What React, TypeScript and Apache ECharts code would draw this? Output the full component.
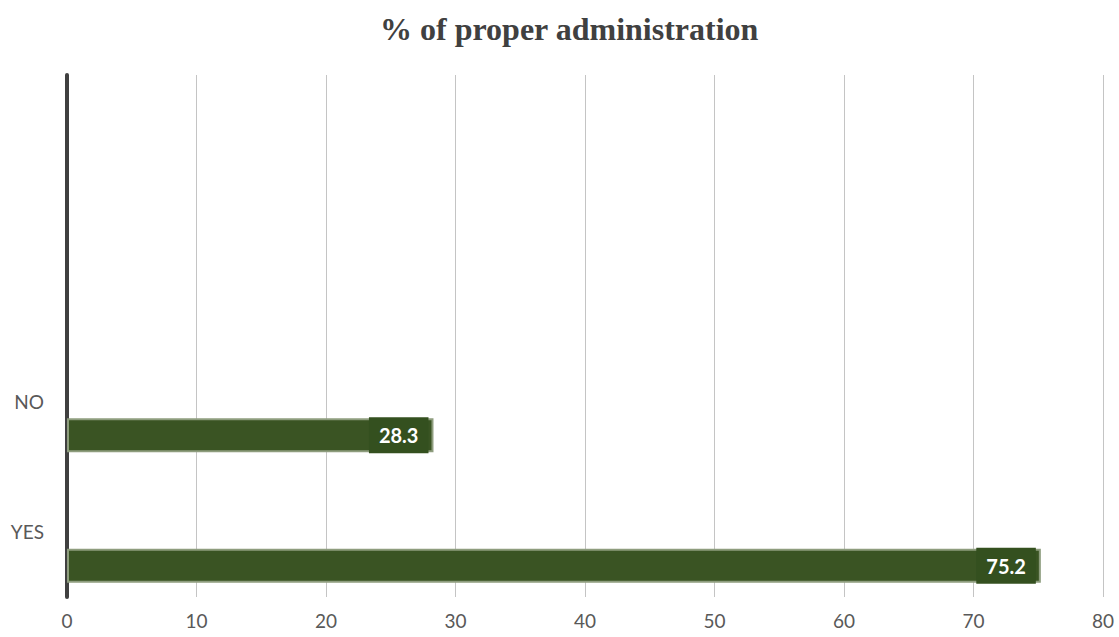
import React, { useEffect, useRef } from "react";
import * as echarts from "echarts";

const title = "% of proper administration";
const categories = ["YES", "NO", "", ""];
const values = [75.2, 28.3, null, null];
const xTicks = { min: 0, max: 80, interval: 10 };

export default function App() {
  const ref = useRef<HTMLDivElement>(null);
  useEffect(() => {
    document.body.style.margin = "0";
    const chart = echarts.init(ref.current!, null, { renderer: "svg" });
    chart.setOption({
      animation: false,
      backgroundColor: "#ffffff",
      title: {
        text: title,
        left: 375,
        top: 8,
        textStyle: {
          fontFamily: "Liberation Serif",
          fontWeight: "bold",
          fontSize: 32,
          color: "#404040",
        },
      },
      grid: { left: 67, right: 16, top: 75, bottom: 40 },
      xAxis: {
        type: "value",
        min: xTicks.min,
        max: xTicks.max,
        interval: xTicks.interval,
        axisLine: { show: false },
        axisTick: { show: false },
        splitLine: { show: true, lineStyle: { color: "#c4c4c4", width: 1 } },
        axisLabel: {
          color: "#595959",
          fontSize: 19,
          fontFamily: "Lato, sans-serif",
          margin: 14,
        },
      },
      yAxis: {
        type: "category",
        data: categories,
        axisLine: { show: true, lineStyle: { color: "#404040", width: 4 } },
        axisTick: { show: false },
        splitLine: { show: false },
        axisLabel: {
          color: "#595959",
          fontSize: 19,
          fontFamily: "Lato, sans-serif",
          margin: 23,
        },
      },
      series: [
        {
          type: "bar",
          data: [null, null, null, null],
          barWidth: 34,
          barGap: "100%",
          itemStyle: { color: "#3a5423" },
        },
        {
          type: "bar",
          data: values,
          barWidth: 34,
          barGap: "100%",
          itemStyle: { color: "#3a5423", borderColor: "#8e9d7e", borderWidth: 2 },
          label: {
            show: true,
            position: "insideRight",
            distance: 5,
            color: "#ffffff",
            fontWeight: "bold",
            fontSize: 20,
            lineHeight: 20,
            fontFamily: "Lato, sans-serif",
            backgroundColor: "#34501f",
            padding: [8, 10],
          },
        },
      ],
    });
    return () => chart.dispose();
  }, []);
  return <div ref={ref} style={{ width: 1119, height: 637 }} />;
}
